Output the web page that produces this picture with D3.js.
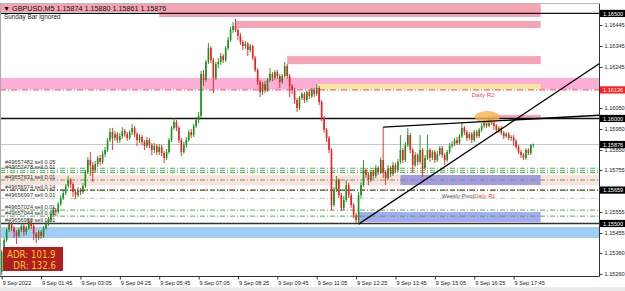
<!DOCTYPE html>
<html>
<head>
<meta charset="utf-8">
<script src="https://cdn.jsdelivr.net/npm/d3@7"></script>
<style>
  body { margin: 0; background: #fff; overflow: hidden; }
  svg { display: block; font-family: "Liberation Sans", Arial, sans-serif; }
</style>
</head>
<body>
<svg id="chart" width="625" height="291"></svg>
<script>
// GBPUSD M5, 9 Sep 2022, bars from 00:25 to 18:25 (open = previous close)
const firstOpen = 1.15269;
const closes = [
  1.15364,1.15421,1.15469,1.15497,1.15478,1.15459,1.15440,1.15469,1.15488,1.15459,
  1.15478,1.15507,1.15488,1.15450,1.15431,1.15459,1.15440,1.15478,1.15497,1.15516,
  1.15545,1.15564,1.15555,1.15593,1.15621,1.15645,1.15678,1.15707,1.15688,1.15650,
  1.15635,1.15659,1.15650,1.15678,1.15745,1.15802,1.15778,1.15755,1.15783,1.15812,
  1.15793,1.15831,1.15850,1.15897,1.15935,1.15907,1.15926,1.15897,1.15916,1.15940,
  1.15926,1.15907,1.15935,1.15955,1.15926,1.15897,1.15912,1.15888,1.15869,1.15897,
  1.15874,1.15850,1.15869,1.15840,1.15864,1.15835,1.15812,1.15840,1.15897,1.15955,
  1.15983,1.15955,1.15897,1.15840,1.15874,1.15897,1.15935,1.15921,1.15964,1.15993,
  1.16012,1.16212,1.16183,1.16269,1.16335,1.16278,1.16193,1.16259,1.16269,1.16297,
  1.16278,1.16335,1.16374,1.16421,1.16440,1.16421,1.16393,1.16364,1.16345,1.16355,
  1.16326,1.16345,1.16288,1.16231,1.16174,1.16126,1.16164,1.16135,1.16183,1.16212,
  1.16193,1.16221,1.16202,1.16174,1.16202,1.16250,1.16202,1.16155,1.16135,1.16088,
  1.16050,1.16097,1.16116,1.16088,1.16126,1.16107,1.16135,1.16116,1.16145,1.16078,
  1.16002,1.15945,1.15907,1.15850,1.15588,1.15659,1.15707,1.15635,1.15574,1.15612,
  1.15683,1.15635,1.15588,1.15540,1.15516,1.15635,1.15683,1.15755,1.15731,1.15707,
  1.15745,1.15726,1.15764,1.15745,1.15802,1.15745,1.15716,1.15764,1.15735,1.15778,
  1.15755,1.15793,1.15850,1.15802,1.15874,1.15921,1.15850,1.15778,1.15826,1.15793,
  1.15850,1.15764,1.15812,1.15850,1.15812,1.15840,1.15802,1.15831,1.15859,1.15826,
  1.15802,1.15840,1.15869,1.15878,1.15897,1.15883,1.15916,1.15955,1.15935,1.15907,
  1.15926,1.15897,1.15935,1.15916,1.15945,1.15964,1.15983,1.15964,1.15997,1.15978,
  1.15964,1.15945,1.15955,1.15931,1.15916,1.15926,1.15907,1.15912,1.15893,1.15864,
  1.15840,1.15826,1.15812,1.15850,1.15835,1.15874,1.15876
];
const highs = [
  1.15374,1.15431,1.15478,1.15512,1.15507,1.15488,1.15469,1.15478,1.15502,1.15497,
  1.15488,1.15521,1.15516,1.15497,1.15459,1.15469,1.15469,1.15488,1.15512,1.15531,
  1.15555,1.15578,1.15574,1.15602,1.15635,1.15659,1.15688,1.15726,1.15716,1.15697,
  1.15664,1.15674,1.15669,1.15693,1.15755,1.15816,1.15840,1.15793,1.15797,1.15821,
  1.15826,1.15845,1.15864,1.15907,1.15955,1.15955,1.15940,1.15935,1.15931,1.15959,
  1.15950,1.15935,1.15945,1.15974,1.15964,1.15935,1.15926,1.15921,1.15897,1.15912,
  1.15907,1.15883,1.15883,1.15878,1.15878,1.15874,1.15845,1.15855,1.15907,1.15964,
  1.16002,1.15993,1.15964,1.15907,1.15888,1.15912,1.15945,1.15950,1.15974,1.16007,
  1.16031,1.16226,1.16231,1.16278,1.16359,1.16345,1.16288,1.16269,1.16288,1.16312,
  1.16307,1.16345,1.16388,1.16436,1.16459,1.16474,1.16431,1.16407,1.16374,1.16369,
  1.16364,1.16355,1.16350,1.16297,1.16240,1.16183,1.16174,1.16178,1.16193,1.16240,
  1.16221,1.16231,1.16231,1.16212,1.16212,1.16269,1.16259,1.16212,1.16164,1.16145,
  1.16097,1.16107,1.16126,1.16126,1.16135,1.16135,1.16145,1.16145,1.16164,1.16155,
  1.16088,1.16012,1.15955,1.15916,1.15859,1.15674,1.15726,1.15716,1.15645,1.15631,
  1.15707,1.15693,1.15645,1.15597,1.15550,1.15650,1.15697,1.15802,1.15764,1.15745,
  1.15755,1.15755,1.15778,1.15774,1.15816,1.15959,1.15755,1.15778,1.15774,1.15793,
  1.15788,1.15807,1.15921,1.15859,1.15888,1.15955,1.15931,1.15859,1.15840,1.15835,
  1.15921,1.15859,1.15826,1.15921,1.15859,1.15850,1.15850,1.15845,1.15869,1.15869,
  1.15835,1.15850,1.15883,1.15893,1.15907,1.15912,1.15926,1.15978,1.15964,1.15945,
  1.15935,1.15935,1.15945,1.15945,1.15955,1.15978,1.15993,1.15993,1.16012,1.16007,
  1.15988,1.15974,1.15964,1.15964,1.15940,1.15935,1.15935,1.15921,1.15921,1.15902,
  1.15874,1.15850,1.15835,1.15859,1.15859,1.15878,1.15880
];
const lows = [
  1.15254,1.15355,1.15412,1.15459,1.15464,1.15431,1.15402,1.15431,1.15459,1.15440,
  1.15445,1.15469,1.15474,1.15421,1.15407,1.15421,1.15426,1.15431,1.15469,1.15488,
  1.15507,1.15535,1.15535,1.15545,1.15583,1.15612,1.15635,1.15669,1.15669,1.15626,
  1.15616,1.15626,1.15635,1.15640,1.15669,1.15735,1.15726,1.15697,1.15740,1.15769,
  1.15778,1.15783,1.15816,1.15840,1.15888,1.15850,1.15893,1.15883,1.15883,1.15902,
  1.15912,1.15893,1.15897,1.15921,1.15912,1.15869,1.15883,1.15874,1.15850,1.15859,
  1.15859,1.15826,1.15835,1.15826,1.15826,1.15821,1.15788,1.15802,1.15831,1.15888,
  1.15945,1.15940,1.15883,1.15821,1.15831,1.15859,1.15888,1.15907,1.15912,1.15955,
  1.15978,1.16002,1.16155,1.16174,1.16259,1.16264,1.16121,1.16183,1.16240,1.16255,
  1.16264,1.16269,1.16326,1.16364,1.16407,1.16412,1.16374,1.16350,1.16326,1.16331,
  1.16297,1.16316,1.16278,1.16221,1.16159,1.16102,1.16112,1.16121,1.16126,1.16174,
  1.16178,1.16183,1.16188,1.16145,1.16164,1.16193,1.16188,1.16102,1.16116,1.16069,
  1.16031,1.16040,1.16088,1.16074,1.16078,1.16093,1.16097,1.16102,1.16107,1.16064,
  1.15988,1.15931,1.15888,1.15835,1.15564,1.15578,1.15650,1.15621,1.15559,1.15564,
  1.15602,1.15621,1.15574,1.15526,1.15502,1.15497,1.15621,1.15674,1.15716,1.15683,
  1.15697,1.15712,1.15716,1.15731,1.15735,1.15716,1.15683,1.15707,1.15721,1.15726,
  1.15740,1.15745,1.15783,1.15788,1.15793,1.15864,1.15835,1.15745,1.15769,1.15778,
  1.15783,1.15721,1.15755,1.15802,1.15793,1.15802,1.15788,1.15793,1.15821,1.15812,
  1.15778,1.15793,1.15831,1.15859,1.15869,1.15874,1.15874,1.15907,1.15921,1.15893,
  1.15897,1.15883,1.15888,1.15907,1.15907,1.15935,1.15955,1.15955,1.15959,1.15969,
  1.15945,1.15935,1.15931,1.15921,1.15902,1.15907,1.15897,1.15893,1.15869,1.15855,
  1.15831,1.15812,1.15802,1.15802,1.15826,1.15826,1.15861
];

const priceTicks = [1.16445,1.16345,1.16245,1.16050,1.15950,1.15850,1.15755,1.15555,1.15455,1.15360,1.15260];
const timeTickBars = [0,16,32,48,64,80,96,112,128,144,160,176,192,208];
const timeTickLabels = ["9 Sep 2022","9 Sep 01:45","9 Sep 03:05","9 Sep 04:25","9 Sep 05:45","9 Sep 07:05","9 Sep 08:25",
  "9 Sep 09:45","9 Sep 11:05","9 Sep 12:25","9 Sep 13:45","9 Sep 15:05","9 Sep 16:25","9 Sep 17:45"];

// supply / demand zones: high, low, from bar, to bar
const zoneNames = ["top","topInner","peak","upper","dailyBand","r2Box","retest","midBand","midBox","lowBox","baseBand"];
const zoneHigh  = [1.16545,1.16526,1.16464,1.16297,1.16193,1.16164,1.16017,1.15731,1.15731,1.15555,1.15483];
const zoneLow   = [1.16507,1.16483,1.16431,1.16259,1.16140,1.16140,1.16002,1.15683,1.15683,1.15507,1.15431];
const zoneFrom  = [-2,64,95,116,-2,128,199,-2,162,145,-2];
const zoneTo    = [219,219,219,219,260,219,219,260,219,219,260];

// horizontal levels
const levelNames  = ["r500","dailyR2","r000","bid","pivot","s500"];
const levelPrices = [1.16500,1.16136,1.16000,1.15876,1.15659,1.15500];

// open sell orders
const orderTickets = ["#49657482 sell 0.05","#49657478 sell 0.01","#49657631 sell 0.01","#49656974 sell 0.14",
  "#49656997 sell 0.01","#49657024 sell 0.01","#49657044 sell 0.01","#49656988 sell 0.01"];
const orderPrices = [1.15763,1.15751,1.15707,1.15659,1.15620,1.15564,1.15535,1.15500];
const extraOrderLines = [1.15742];

// trend lines: [bar, price] pairs
const trendRising = [[145,1.15497],[219,1.16075]];
const trendUpper  = [[155,1.15959],[219,1.16000]];

const header = "\u25BC GBPUSD,M5  1.15874 1.15880 1.15861 1.15876";
const adr = "ADR: 101.9", dr = "DR: 132.6";

// ---------------------------------------------------------------
const W = 625, H = 291, axisX = 599.5, axisY = 276.5, topY = 3.5;
const svg = d3.select("#chart");

const x = d3.scaleLinear().domain([0, 216]).range([1.7, 533.3]);
const y = d3.scaleLinear().domain([1.15260, 1.16445]).range([273.9, 25]);

svg.append("rect").attr("x",0).attr("y",0).attr("width",W).attr("height",H).attr("fill","#fff");
svg.append("rect").attr("x",0).attr("y",287).attr("width",W).attr("height",4).attr("fill","#ececec");

svg.append("clipPath").attr("id","plot").append("rect")
  .attr("x",0).attr("y",topY).attr("width",axisX).attr("height",axisY-topY);
const plot = svg.append("g").attr("clip-path","url(#plot)");

const zoneColors = {top:"#f5a4b5",topInner:"#f5a4b5",peak:"#f5a4b5",upper:"#f5a4b5",dailyBand:"#fcaed6",
  r2Box:"#f9e8a0",retest:"#f5a4b5",midBand:"#fde0e0",midBox:"#a899e4",lowBox:"#a6acf4",baseBand:"#9fcdf6"};

zoneNames.forEach((n,i) => {
  plot.append("rect")
    .attr("x", x(zoneFrom[i])).attr("width", x(zoneTo[i]) - x(zoneFrom[i]))
    .attr("y", y(zoneHigh[i])).attr("height", y(zoneLow[i]) - y(zoneHigh[i]))
    .attr("fill", zoneColors[n]);
});

// order lines
const dashDot = "5,2,1,2";
orderPrices.slice(0,7).concat(extraOrderLines).forEach(p => {
  if (p === 1.15659) return;
  plot.append("line").attr("x1",0).attr("x2",axisX).attr("y1",y(p)).attr("y2",y(p))
    .attr("stroke", p === 1.15620 ? "#a9d9a9" : "#4cae4c").attr("stroke-width",1)
    .attr("stroke-dasharray",dashDot);
});

// levels
const lv = {};
levelNames.forEach((n,i) => lv[n] = levelPrices[i]);
function hline(p, color, w, dash) {
  const l = plot.append("line").attr("x1",0).attr("x2",axisX).attr("y1",y(p)).attr("y2",y(p))
    .attr("stroke",color).attr("stroke-width",w);
  if (dash) l.attr("stroke-dasharray",dash);
  return l;
}
hline(lv.bid, "#c8c8c8", 1);
hline(lv.r500, "#111", 1.3);
hline(lv.dailyR2, "#ff3a3a", 1, "6,2,1,2");
hline(lv.r000, "#111", 1.4);
hline(lv.pivot, "#1d5e1d", 1.4, dashDot);
hline(lv.pivot, "#ff3a3a", 1, "3,9").attr("stroke-dashoffset", -1);
hline(lv.s500, "#333", 1.3);

// candles
const bars = closes.map((c,i) => ({i, o: i ? closes[i-1] : firstOpen, h: highs[i], l: lows[i], c}));
const up = "#17921c", down = "#f41c1c";
const cg = plot.append("g");
cg.selectAll("line").data(bars).join("line")
  .attr("x1", d => x(d.i)).attr("x2", d => x(d.i))
  .attr("y1", d => y(d.h)).attr("y2", d => y(d.l))
  .attr("stroke", d => d.c >= d.o ? up : down).attr("stroke-width", 0.9);
cg.selectAll("rect").data(bars).join("rect")
  .attr("x", d => x(d.i) - 0.8).attr("width", 1.6)
  .attr("y", d => y(Math.max(d.o,d.c)))
  .attr("height", d => Math.max(0.8, Math.abs(y(d.o) - y(d.c))))
  .attr("fill", d => d.c >= d.o ? up : down);

// ellipse marking the rejection
plot.append("ellipse").attr("cx", x(197.3)).attr("cy", y(1.16007)).attr("rx", 12.5).attr("ry", 6)
  .attr("fill", "#f5b24c").attr("opacity", 0.8);

// trend lines (rays to the right)
function ray(pts) {
  const [a, b] = pts;
  const x1 = x(a[0]), y1 = y(a[1]), x2 = x(b[0]), y2 = y(b[1]);
  const k = (y2 - y1) / (x2 - x1);
  plot.append("line").attr("x1",x1).attr("y1",y1).attr("x2",axisX).attr("y2",y1 + k*(axisX - x1))
    .attr("stroke","#000").attr("stroke-width",1.3);
}
ray(trendRising);
ray(trendUpper);

// level captions
plot.append("text").attr("x", x(191)).attr("y", y(lv.dailyR2) + 7).attr("font-size", 6)
  .attr("fill","#f04a4a").text("Daily R2");
plot.append("text").attr("x", x(178.8)).attr("y", y(lv.pivot) + 7.5).attr("font-size", 5.6)
  .attr("fill","#555").text("Weekly Pivot");
plot.append("text").attr("x", x(192)).attr("y", y(lv.pivot) + 7.5).attr("font-size", 5.6)
  .attr("fill","#f04a4a").text("Daily R1");

// order tickets (first one nudged up so the two close tickets stay readable)
orderTickets.forEach((t,i) => {
  plot.append("text").attr("x", 5).attr("y", y(orderPrices[i]) - (i === 0 ? 4.5 : 1.5)).attr("font-size", 5.6)
    .attr("fill", "#333").text(t);
});

// header
plot.append("text").attr("x", 3).attr("y", 10.5).attr("font-size", 7.2).attr("fill","#111").text(header);
plot.append("text").attr("x", 4).attr("y", 19).attr("font-size", 6.4).attr("fill","#222").text("Sunday Bar ignored");

// ADR box
svg.append("rect").attr("x",3).attr("y",247).attr("width",60).attr("height",24).attr("fill","#b01e1e");
svg.append("text").attr("x",7).attr("y",257.5).attr("font-size",9.6).attr("fill","#f7c531")
  .attr("font-family","'DejaVu Sans Condensed','DejaVu Sans',sans-serif").text(adr);
svg.append("text").attr("x",56).attr("y",268.5).attr("font-size",9.6).attr("fill","#f7c531")
  .attr("text-anchor","end")
  .attr("font-family","'DejaVu Sans Condensed','DejaVu Sans',sans-serif").text(dr);

// axes
const yAxis = svg.append("g").attr("transform", `translate(${axisX},0)`)
  .call(d3.axisRight(y).tickValues(priceTicks).tickFormat(d3.format(".5f")).tickSize(3).tickPadding(2));
const xAxis = svg.append("g").attr("transform", `translate(0,${axisY})`)
  .call(d3.axisBottom(x).tickValues(timeTickBars).tickFormat((d,i) => timeTickLabels[i]).tickSize(3).tickPadding(2));
[yAxis, xAxis].forEach(g => {
  g.select(".domain").remove();
  g.selectAll("line").attr("stroke","#333");
  g.selectAll("text").attr("font-size",5.6).attr("fill","#222").attr("font-family","'Liberation Sans',Arial,sans-serif");
});
xAxis.selectAll("text").attr("text-anchor","start").attr("dx", 0.5);

svg.append("line").attr("x1",axisX).attr("x2",axisX).attr("y1",topY).attr("y2",axisY).attr("stroke","#333");
svg.append("line").attr("x1",0).attr("x2",axisX).attr("y1",axisY).attr("y2",axisY).attr("stroke","#333");
svg.append("line").attr("x1",0).attr("x2",axisX).attr("y1",topY).attr("y2",topY).attr("stroke","#bbb");
svg.append("line").attr("x1",0.5).attr("x2",0.5).attr("y1",topY).attr("y2",axisY).attr("stroke","#aaa");

// price boxes on the axis
const boxes = [[lv.r500,"#000"],[lv.dailyR2,"#ff2020"],[lv.r000,"#000"],[lv.bid,"#000"],[lv.pivot,"#000"],[lv.s500,"#000"]];
boxes.forEach(([p,col]) => {
  svg.append("rect").attr("x",axisX+0.5).attr("y",y(p)-3.6).attr("width",W-axisX).attr("height",7.2).attr("fill",col);
  svg.append("text").attr("x",axisX+3.5).attr("y",y(p)+2.1).attr("font-size",5.6).attr("fill","#fff")
    .text(d3.format(".5f")(p));
});
</script>
</body>
</html>
